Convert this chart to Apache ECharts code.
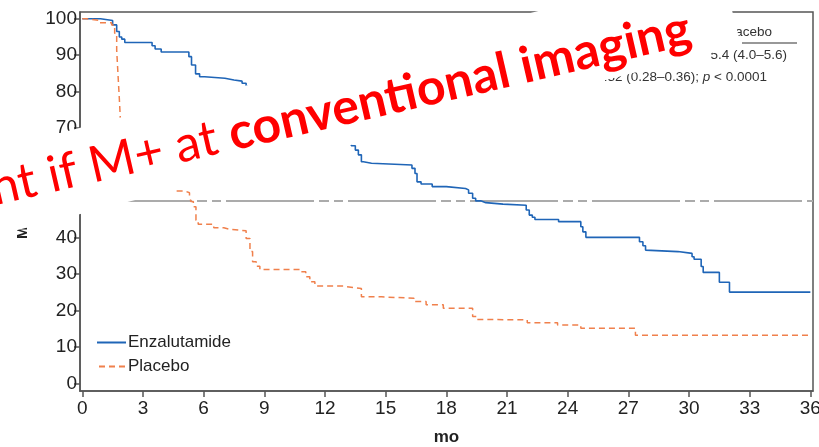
<!DOCTYPE html>
<html>
<head>
<meta charset="utf-8">
<script src="https://cdn.jsdelivr.net/npm/echarts@6/dist/echarts.min.js"></script>
<style>
  html, body { margin: 0; padding: 0; background: #fff; }
  #chart { width: 819px; height: 447px; }
</style>
</head>
<body>
<div id="chart"></div>
<script>
// Axis ticks
const monthTicks = [0, 3, 6, 9, 12, 15, 18, 21, 24, 27, 30, 33, 36];
const survTicks = [0, 10, 20, 30, 40, 50, 60, 70, 80, 90, 100];

// Kaplan–Meier estimates: event times (months) and survival (%) after each step
const enzaTime = [0, 0.9, 1.5, 1.7, 1.83, 1.95, 2.1, 3.45, 3.6, 3.9, 5.27, 5.4, 5.6, 5.8, 6.05, 7.05, 7.5, 7.9, 8.1,
  8.6, 9.4, 10.2, 11.0, 11.8, 12.6, 13.3,
  13.5, 13.65, 13.8, 13.9, 14.3, 16.3, 16.45, 16.55, 16.75, 17.3, 18.0, 18.95, 19.1, 19.3, 19.45, 19.7, 19.95,
  20.8, 21.95, 22.1, 22.25, 22.38, 23.55, 24.65, 24.75, 24.9, 27.55, 27.72, 27.85, 27.9, 29.45, 30.15, 30.25,
  30.6, 30.7, 31.5, 32.0, 36.0];
const enzaSurv = [100, 99.5, 98.3, 96.5, 95.0, 94.4, 93.5, 92.6, 91.7, 90.9, 89.6, 87.3, 84.9, 84.1, 83.7, 83.2, 82.9, 82.3, 81.6,
  80.4, 77.5, 74.0, 71.2, 68.8, 66.9, 65.2,
  64.0, 62.7, 60.8, 60.4, 59.9, 59.0, 57.6, 55.3, 54.7, 54.0, 53.5, 53.1, 52.2, 50.8, 50.1, 49.6, 49.2,
  48.9, 47.6, 46.2, 45.6, 45.0, 44.4, 43.0, 41.6, 40.1, 38.9, 37.8, 36.6, 36.2, 35.7, 34.8, 34.1,
  32.1, 30.5, 27.8, 25.1, 25.1];

const placTime = [0, 0.2, 0.87, 1.45, 1.6, 1.7, 1.78, 1.83, 1.88, 1.95, 2.05, 2.3, 2.8, 3.5, 4.2, 4.6,
  5.08, 5.3, 5.37, 5.49, 5.62, 5.73, 6.5, 7.0, 7.3, 8.1, 8.29, 8.42, 8.6, 8.78, 10.75, 11.05, 11.25, 11.5,
  12.9, 13.07, 13.8, 14.8, 16.4, 17.0, 17.85, 19.3, 19.5, 19.8, 22.0, 23.5, 24.65, 27.35, 36.0];
const placSurv = [100, 99.5, 98.9, 98.3, 96.0, 91.4, 83.2, 78.2, 72.7, 68.0, 63.0, 60.0, 57.5, 55.5, 53.8, 52.8,
  52.3, 51.4, 49.9, 48.5, 44.8, 43.7, 42.7, 42.3, 41.9, 39.8, 36.2, 33.4, 32.2, 31.3, 30.7, 29.3, 27.9, 26.8,
  26.6, 26.1, 23.8, 23.4, 22.5, 21.6, 20.7, 18.4, 17.6, 17.5, 16.7, 16.1, 15.2, 13.3, 13.3];

const seriesNames = ['Enzalutamide', 'Placebo'];
const medianLevel = 50;

const pairs = (xs, ys) => xs.map((t, i) => [t, ys[i]]);

const chart = echarts.init(document.getElementById('chart'), null, { renderer: 'canvas' });

const axisFont = { fontFamily: 'Liberation Sans, Arial, sans-serif', fontSize: 19, color: '#222' };
const tilt = 14.3 * Math.PI / 180;
const textTilt = 13 * Math.PI / 180;

chart.setOption({
  animation: false,
  backgroundColor: '#fff',
  grid: {
    left: 80, right: 6, top: 12, bottom: 56,
    containLabel: false, outerBoundsMode: 'none',
    show: true, borderColor: '#555', borderWidth: 1.5, backgroundColor: 'transparent'
  },
  legend: {
    data: seriesNames,
    orient: 'vertical',
    left: 96,
    top: 334,
    padding: 0,
    itemWidth: 29,
    itemHeight: 14,
    itemGap: 7,
    itemStyle: { opacity: 0 },
    textStyle: { fontFamily: 'Liberation Sans, Arial, sans-serif', fontSize: 17, color: '#222', padding: [0, 0, 0, -3] }
  },
  xAxis: {
    type: 'value',
    min: -0.114,
    max: 36.13,
    name: 'mo',
    nameLocation: 'middle',
    nameGap: 38,
    nameTextStyle: { fontFamily: 'Liberation Sans, Arial, sans-serif', fontSize: 17, fontWeight: 'bold', color: '#222' },
    axisLine: { show: true, onZero: false, lineStyle: { color: '#555', width: 1.5 } },
    axisTick: { show: true, length: 6, customValues: monthTicks, lineStyle: { color: '#555', width: 1.5 } },
    axisLabel: Object.assign({ customValues: monthTicks, margin: 8 }, axisFont),
    splitLine: { show: false }
  },
  yAxis: {
    type: 'value',
    min: -2,
    max: 101.84,
    axisLine: { show: true, onZero: false, lineStyle: { color: '#555', width: 1.5 } },
    axisTick: { show: true, length: 6, customValues: survTicks, lineStyle: { color: '#555', width: 1.5 } },
    axisLabel: Object.assign({ customValues: survTicks, margin: 3 }, axisFont),
    splitLine: { show: false }
  },
  series: [
    {
      name: seriesNames[0],
      type: 'line',
      step: 'end',
      symbol: 'none',
      data: pairs(enzaTime, enzaSurv),
      lineStyle: { color: '#1f65b7', width: 1.6 },
      itemStyle: { color: '#1f65b7' },
      z: 3,
      markLine: {
        silent: true,
        symbol: 'none',
        label: { show: false },
        lineStyle: { color: '#ababab', width: 2, type: [88, 5, 10, 5, 9, 5], dashOffset: 98 },
        data: [{ yAxis: medianLevel }],
        z: 1
      }
    },
    {
      name: seriesNames[1],
      type: 'line',
      step: 'end',
      symbol: 'none',
      data: pairs(placTime, placSurv),
      lineStyle: { color: '#f0804c', width: 1.5, type: [6, 4] },
      itemStyle: { color: '#f0804c' },
      z: 3
    }
  ],
  graphic: [
    // Summary table in the upper right of the plot
    { type: 'text', x: 772, y: 32, z: 10, style: { text: 'Placebo', align: 'right', verticalAlign: 'middle', font: '13.5px "Liberation Sans", Arial, sans-serif', fill: '#333' } },
    { type: 'line', z: 10, shape: { x1: 742, y1: 43, x2: 797, y2: 43 }, style: { stroke: '#333', lineWidth: 1.2 } },
    { type: 'text', x: 787, y: 55, z: 10, style: { text: '5.4 (4.0–5.6)', align: 'right', verticalAlign: 'middle', font: '13.5px "Liberation Sans", Arial, sans-serif', fill: '#333' } },
    { type: 'text', x: 767, y: 77, z: 10, style: {
        text: '{n|0.32 (0.28–0.36); }{i|p}{n| < 0.0001}', align: 'right', verticalAlign: 'middle',
        rich: {
          n: { fontFamily: 'Liberation Sans, Arial, sans-serif', fontSize: 13.5, fill: '#333' },
          i: { fontFamily: 'Liberation Sans, Arial, sans-serif', fontSize: 13.5, fontStyle: 'italic', fill: '#333' }
        }
      } },
    // y-axis title
    { type: 'text', x: 23, y: 239, rotation: Math.PI / 2, z: 10, style: { text: 'MFS (%)', align: 'left', verticalAlign: 'middle', font: 'bold 15px "Liberation Sans", Arial, sans-serif', fill: '#222' } },
    // Callout banner laid over the chart
    { type: 'rect', x: 741, y: 45.5, rotation: tilt, z: 100, shape: { x: -820, y: -83.5, width: 820, height: 83.5 }, style: { fill: '#ffffff' } },
    { type: 'text', x: -3, y: 214, rotation: textTilt, z: 101, style: {
        text: '{r|nt if M+ at }{b|conventional imaging}', align: 'left', verticalAlign: 'bottom',
        rich: {
          r: { fontFamily: 'Lato, sans-serif', fontSize: 50, fill: '#ff0000' },
          b: { fontFamily: 'Lato, sans-serif', fontSize: 50, fontWeight: 'bold', fill: '#ff0000' }
        }
      } }
  ]
});
</script>
</body>
</html>
